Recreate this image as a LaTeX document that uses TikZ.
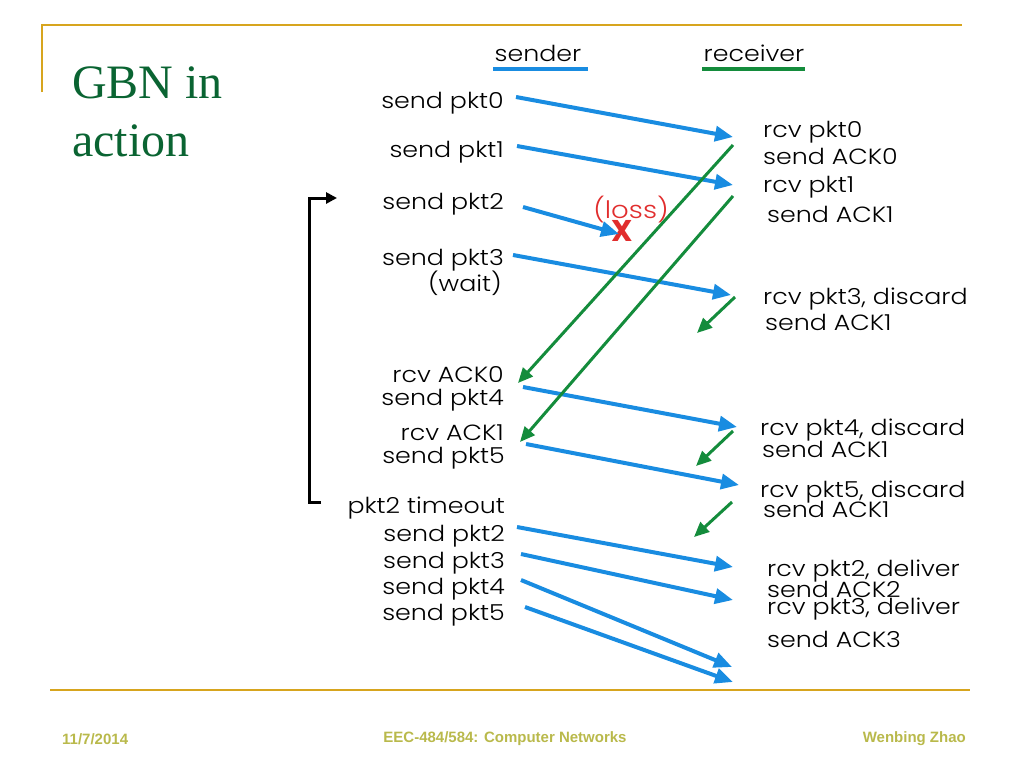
\documentclass[tikz,border=0pt]{standalone}
\usepackage{fontspec}
\setmainfont{Poppins Light}[FakeStretch=1.15]
\newfontfamily\titlefont{Liberation Serif}
\newfontfamily\footfont{Liberation Sans}
\usetikzlibrary{arrows.meta}
\definecolor{pktblue}{RGB}{25,140,225}
\definecolor{ackgreen}{RGB}{20,140,60}
\definecolor{lossred}{RGB}{225,45,45}
\definecolor{framegold}{RGB}{215,165,30}
\definecolor{titlegreen}{RGB}{10,100,50}
\definecolor{footolive}{RGB}{185,185,75}

\begin{document}
\begin{tikzpicture}[x=1pt,y=-1pt,
    lbl/.style={inner sep=0pt,font=\fontsize{22}{22}\selectfont},
    sndlbl/.style={lbl,anchor=base east},
    rcvlbl/.style={lbl,anchor=base west},
    pkt/.style={pktblue,line width=4pt,-{Triangle[length=18pt,width=15pt]}},
    ack/.style={ackgreen,line width=3pt,-{Triangle[length=15pt,width=13pt]}},
    foot/.style={footolive,inner sep=0pt,font=\footfont\bfseries\fontsize{15}{15}\selectfont}]
    \useasboundingbox (0,0) rectangle (1024,768);
    % Frame
    \draw[framegold,line width=2pt] (42,92) -- (42,25) -- (962,25);
    \draw[framegold,line width=2pt] (50,690) -- (970,690);
    % Title
    \node[titlegreen,anchor=north west,align=left,inner sep=0pt,
      font=\titlefont\fontsize{48}{58}\selectfont] (ttl) at (72,67) {GBN in\\action};
    % Headers
    \node[lbl,anchor=base] (hsnd) at (538,62) {sender};
    \node[lbl,anchor=base] (hrcv) at (754,62) {receiver};
    \draw[pktblue,line width=4pt] (493,69) -- (588,69);
    \draw[ackgreen,line width=4pt] (702,69) -- (805,69);
    % Sender side
    \node[sndlbl] (snd0) at (504,108) {send pkt0};
    \node[sndlbl] (snd1) at (504,157) {send pkt1};
    \node[sndlbl] (snd2) at (504,209) {send pkt2};
    \node[sndlbl] (snd3) at (504,265) {send pkt3};
    \node[sndlbl] (wait) at (502,291) {(wait)};
    \node[sndlbl] (ack0) at (504,382) {rcv ACK0};
    \node[sndlbl] (snd4) at (504,405) {send pkt4};
    \node[sndlbl] (ack1) at (504,440) {rcv ACK1};
    \node[sndlbl] (snd5) at (505,463) {send pkt5};
    \node[sndlbl] (tmo) at (505,513) {pkt2 timeout};
    \node[sndlbl] (rsnd2) at (505,541) {send pkt2};
    \node[sndlbl] (rsnd3) at (505,568) {send pkt3};
    \node[sndlbl] (rsnd4) at (505,594) {send pkt4};
    \node[sndlbl] (rsnd5) at (505,620) {send pkt5};
    % Receiver side
    \node[rcvlbl] (rcv0) at (763,137) {rcv pkt0};
    \node[rcvlbl] (rack0) at (763,164) {send ACK0};
    \node[rcvlbl] (rcv1) at (763,192) {rcv pkt1};
    \node[rcvlbl] (rack1) at (767,222) {send ACK1};
    \node[rcvlbl] (rcv3) at (763,304) {rcv pkt3, discard};
    \node[rcvlbl] (rack3) at (765,330) {send ACK1};
    \node[rcvlbl] (rcv4) at (760,435) {rcv pkt4, discard};
    \node[rcvlbl] (rack4) at (762,457) {send ACK1};
    \node[rcvlbl] (rcv5) at (760,497) {rcv pkt5, discard};
    \node[rcvlbl] (rack5) at (763,517) {send ACK1};
    \node[rcvlbl] (rrcv2) at (767,576) {rcv pkt2, deliver};
    \node[rcvlbl] (rrack2) at (767,597) {send ACK2};
    \node[rcvlbl] (rrcv3) at (767,614) {rcv pkt3, deliver};
    \node[rcvlbl] (rrack3) at (767,647) {send ACK3};
    % Loss
    \node[lossred,inner sep=0pt,anchor=base,font=\fontsize{24}{24}\selectfont] (loss) at (631,218) {(loss)};
    \node[lossred,inner sep=0pt,font=\fontspec{Poppins}\bfseries\fontsize{30}{30}\selectfont] (lost) at (622,231) {X};
    % Event points
    \coordinate (s0) at (516,97);  \coordinate (r0) at (733,137);
    \coordinate (s1) at (517,146); \coordinate (r1) at (733,185);
    \coordinate (s2) at (523,207); \coordinate (r2) at (619,234);
    \coordinate (s3) at (513,255); \coordinate (r3) at (731,295);
    \coordinate (s4) at (523,387); \coordinate (r4) at (737,427);
    \coordinate (s5) at (526,444); \coordinate (r5) at (739,485);
    \coordinate (t2) at (517,527); \coordinate (u2) at (733,567);
    \coordinate (t3) at (521,554); \coordinate (u3) at (733,600);
    \coordinate (t4) at (521,580); \coordinate (u4) at (732,667);
    \coordinate (t5) at (525,607); \coordinate (u5) at (733,682);
    % Packets
    \foreach \a/\b in {s0/r0,s1/r1,s2/r2,s3/r3,s4/r4,s5/r5,t2/u2,t3/u3,t4/u4,t5/u5}
      \draw[pkt] (\a) -- (\b);
    % ACKs
    \coordinate (k0) at (733,145); \coordinate (g0) at (518,383);
    \coordinate (k1) at (733,196); \coordinate (g1) at (520,442);
    \coordinate (k3) at (735,297); \coordinate (g3) at (697,333);
    \coordinate (k4) at (733,431); \coordinate (g4) at (696,466);
    \coordinate (k5) at (732,502); \coordinate (g5) at (694,537);
    \foreach \a/\b in {k0/g0,k1/g1,k3/g3,k4/g4,k5/g5}
      \draw[ack] (\a) -- (\b);
    % Retransmit bracket
    \coordinate (back) at (337,198);
    \coordinate (tmoend) at (321,502);
    \draw[line width=3pt,-{Triangle[length=11pt,width=11pt]}] (tmoend) -| ([xshift=-28pt]back) -- (back);
    % Footer
    \node[foot,anchor=west] (date) at (62,739) {11/7/2014};
    \node[foot] (course) at (505,739) {EEC-484/584: Computer Networks};
    \node[foot,anchor=east] (auth) at (966,739) {Wenbing Zhao};
\end{tikzpicture}
\end{document}
